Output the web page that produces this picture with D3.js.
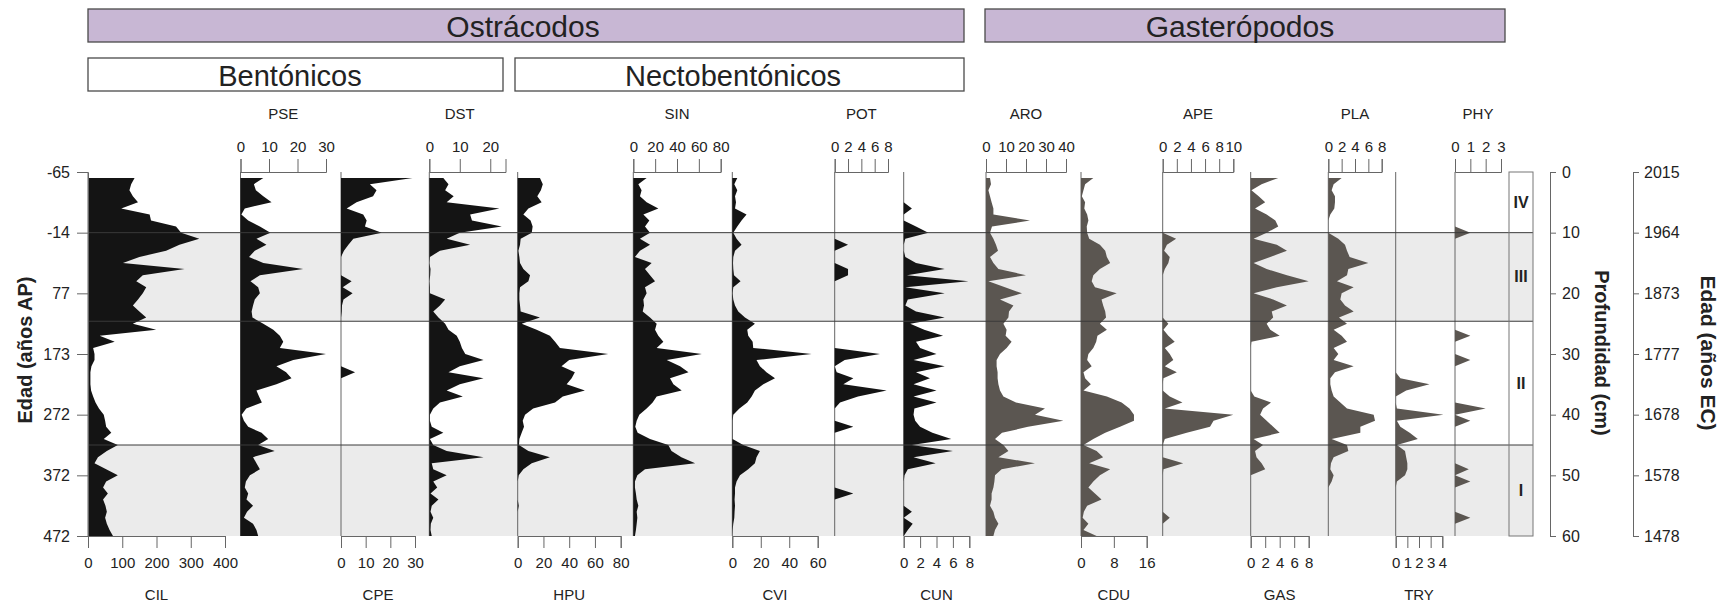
<!DOCTYPE html>
<html>
<head>
<meta charset="utf-8">
<script src="https://cdn.jsdelivr.net/npm/d3@7"></script>
<style>
  body { margin: 0; background: #fff; }
  svg { display: block; font-family: "Liberation Sans", Arial, sans-serif; }
</style>
</head>
<body>
<svg id="chart" width="1722" height="605"></svg>
<script>
// sample depths (cm)
const depths = [1,2,3,4,5,6,7,8,9,10,11,12,13,14,15,16,17,18,19,20,21,22,23,24,25,26,27,28,29,30,
  31,32,33,34,35,36,37,38,39,40,41,42,43,44,45,46,47,48,49,50,51,52,53,54,55,56,57,58,59,60];

// ostracods
const CIL = [136,126,121,131,146,97,180,184,257,272, 325,267,228,150,102,282,160,141,170,160,
  146,131,150,170,131,199,34,78,15,19, 19,10,7,7,7,9,15,22,32,46,
  50,53,68,46,87,55,29,19,53,87, 53,44,58,44,51,55,50,55,63,73];
const PSE = [8,4.7,5.4,8,10.9,1.5,0.3,2.7,6.8,10.5, 5.6,9.1,5,3,8,22,6.8,3.5,6.2,6.8,
  5,4.4,3.9,4.2,8,11.5,13.8,15,13.8,30, 18.5,12.6,16,17.9,12.6,5.6,6.5,7.5,2,0.4,
  1.2,2.7,7.4,9.7,6.2,12,4.4,5.6,6.8,3.3, 1.9,1.5,2.7,2.1,4.4,2.3,1.2,4.4,5.6,6.2];
const CPE = [29,11.7,14.4,13,6.3,2.3,9,10.4,9.7,16.5, 5,3,1.2,0,0,0,0,4.3,0.7,4.7,
  1,0.4,0.3,0,0,0,0,0,0,0, 0,0,5.7,0,0,0,0,0,0,0,
  0,0,0,0,0,0,0,0,0,0, 0,0,0,0,0,0,0,0,0,0];
const DST = [4.6,6.3,5.2,8,5.7,23,13.4,14,23.8,10, 5.7,13.4,3.5,0.2,0,0.4,0.3,0,0.2,0.2,
  5.2,3.5,1.3,3,5.2,6.3,9,10,10.7,11.8, 17.8,10,6.3,17.8,10,5.7,11,3.5,1.3,0.2,
  0.2,0.8,4.6,0.2,1.3,5.7,17.8,0.8,1.3,5.7, 1.3,2.6,0.4,3,0.8,0.4,1.3,0.5,0.4,0.8];
const HPU = [17.3,19.5,18,15.2,18.6,8.3,4.4,10,11.6,10.9, 2.3,1.8,0.5,1.3,1.8,4.4,9.6,8.3,1.8,1.3,
  1.3,1.8,2.3,17.3,3.1,14.7,25,29,32.8,70.3, 40,34,44.4,41.9,38,52.2,35,29,12,5.7,
  3.9,4.9,3.1,1.3,1,8.3,25,10.9,4.4,0.8, 0,0,0,0,0.8,0,0,0,0,0];
const SIN = [12.2,4.6,7.6,6.1,12.2,22.9,9.2,14.7,10.7,15.3, 6.1,15.3,6.1,1.5,16.8,10.7,15.3,19.9,10.7,12.2,
  9.2,9.8,8.6,15.3,21.4,19.9,22.9,27.5,21.4,62.7, 30.6,42.8,50.5,33.6,36.7,44.3,21.4,17.7,12.2,5.5,
  3.1,1.8,4,15.3,32,35,44,56.6,10.7,3.7, 1.5,1.5,2.4,3.1,4.6,3.1,3.7,3.1,2.4,1.5];
const CVI = [3.5,1.4,3.5,1.9,2.6,1.9,10,6.5,3.5,0.7, 3,6.5,1.9,0.7,0.5,0.7,1.2,5.8,0.7,0.2,
  0.7,1.9,4.2,8.9,15.9,10.5,11.2,14.3,14.7,55.7, 17,19.4,24,30,21.8,15.9,13.6,10.5,5,0.7,
  0.2,0.2,0.2,0.2,7.7,19.4,17,15.9,11.2,5.4, 3,1.9,1.9,1.6,1.9,1.6,1.4,0.7,0.2,0];
const POT = [0,0,0,0,0,0,0,0,0,0, 0,2,0,0,0,2,2,0,0,0,
  0,0,0,0,0,0,0,0,0,6.8, 1.5,0,0.3,2.8,1.3,7.8,3.5,0.8,0,0,
  0,2.8,0,0,0,0,0,0,0,0, 0,0,2.8,0,0,0,0,0,0,0];
const CUN = [0,0,0,0,0,1,0,0,1.5,3, 0.2,0,0,0.2,1.5,5,0.4,7.9,0.2,5,
  0.5,0.2,1.5,5,0.8,2.5,4.8,1.5,2,4, 1.2,5,1.5,3.2,1.2,4,1.2,4,1.3,1.2,
  1.4,2,3.5,5.8,1,6,1.2,3.9,0.5,0.1, 0,0,0,0,0,1,0,1.1,0.5,0];

// gastropods
const ARO = [2,2.5,1.2,2,2.8,3.7,3.7,22,3,2, 3.7,5,6,2,3.7,6.2,20,1.2,9.5,18,
  7,13.7,11.5,11.2,8.7,10.3,9.8,12.8,10.3,7, 5.3,5.3,5.8,5.8,6.2,7,8.7,15,29.5,24.5,
  38.7,21,8,4.5,8.7,11.2,6.2,24.5,7.8,4.5, 4.2,3.7,2.8,2.8,2,3.7,4.5,6.2,4.5,3.7];
const CDU = [3,1,0.6,0.2,1,0.8,1.5,1.8,1.4,1.5, 2,4.6,5.9,6.3,7.1,4.6,3,2.6,3.4,8.7,
  5,5.4,5.9,6.1,4.6,6.3,4,3.7,3,1.8, 1.5,2.6,0.6,1,2.4,0.6,6.3,9.9,11.8,12.9,
  12.9,9.5,5.9,3,0.6,3.8,5.4,2,7.1,4.6, 3,1.8,3.4,5,1.5,0.7,0.4,1.8,0.6,3.8];
const APE = [0,0,0,0,0,0,0,0,0,0, 1.9,0.6,0.2,1,0.8,0.3,0,0,0,0,
  0,0,0,0,0.8,0.1,0.8,1.7,0.3,1, 1.5,0.3,2,0.1,0,0,1,2.8,0.3,10,
  7.2,6.7,3.4,0.3,0,0,0,2.9,0.1,0, 0,0,0,0,0,0,1,0,0,0];
const GAS = [3.8,1.5,0.1,1.1,2,0.6,2.2,3.4,3.8,2.2, 0.4,3.6,5,2.7,0.4,2.2,5,8,3.6,0.4,
  3.1,5,2.9,3.1,2.2,2.7,4,0.1,0,0, 0,0,0,0,0,0,0.5,2.8,1.7,1.3,
  2.2,3.1,4,0.4,1.7,0.6,0.8,1.5,2,0, 0,0,0,0,0,0,0,0,0,0];
const PLA = [2,0.8,0.5,1,1,0.9,0.3,0,0,0, 1.5,2.5,2.8,3.2,6,3,2.8,1.3,3.8,2,
  1.8,2.5,3.8,1.6,2.8,0.8,2,2.8,0.8,1.5, 0.8,3.8,1,0.3,0.3,0.5,0.8,1.8,2.8,6.8,
  7,4.8,4.8,0.5,2.8,3,0.8,0.4,0.3,0.8, 0.5,0,0,0,0,0,0,0,0,0];
const TRY = [0,0,0,0,0,0,0,0,0,0, 0,0,0,0,0,0,0,0,0,0,
  0,0,0,0,0,0,0,0,0,0, 0,0,0,0.4,2.9,0.9,0,0,0.1,4.1,
  0.1,0.4,1.2,1.9,0.1,0.8,0.9,1,1,0.8, 0.1,0,0,0,0,0,0,0,0,0];
const PHY = [0,0,0,0,0,0,0,0,0,1, 0,0,0,0,0,0,0,0,0,0,
  0,0,0,0,0,0,1,0,0,0, 1,0,0,0,0,0,0,0,2,0,
  1,0,0,0,0,0,0,0,0.9,0, 1,0,0,0,0,0,1,0,0,0];

const taxa = ["CIL","PSE","CPE","DST","HPU","SIN","CVI","POT","CUN","ARO","CDU","APE","GAS","PLA","TRY","PHY"];
const series = [CIL,PSE,CPE,DST,HPU,SIN,CVI,POT,CUN,ARO,CDU,APE,GAS,PLA,TRY,PHY];
const taxonTicks = [[0,100,200,300,400],[0,10,20,30],[0,10,20,30],[0,10,20],[0,20,40,60,80],
  [0,20,40,60,80],[0,20,40,60],[0,2,4,6,8],[0,2,4,6,8],[0,10,20,30,40],[0,8,16],
  [0,2,4,6,8,10],[0,2,4,6,8],[0,2,4,6,8],[0,1,2,3,4],[0,1,2,3]];
const gastropods = ["ARO","CDU","APE","GAS","PLA","TRY","PHY"];

const depthTicks = [0,10,20,30,40,50,60];
const ageAP = ["-65","-14","77","173","272","372","472"];
const ageEC = ["2015","1964","1873","1777","1678","1578","1478"];
const zoneNames = ["IV","III","II","I"];
const zoneLimits = [0,10,24.6,45,60];

// layout: panel placement [x of zero, x of domain end, domain end, axis side]
const layout = {
  CIL:[88,225,400,"bottom"], PSE:[240.5,326,30,"top"], CPE:[341,415,30,"bottom"],
  DST:[429.3,505.5,25,"top"], HPU:[517.7,620.7,80,"bottom"], SIN:[633.3,720.7,80,"top"],
  CVI:[732.3,817.7,60,"bottom"], POT:[834.7,888,8,"top"], CUN:[903.7,969.3,8,"bottom"],
  ARO:[986,1066,40,"top"], CDU:[1081,1146.7,16,"bottom"], APE:[1162.7,1233.3,10,"top"],
  GAS:[1250.7,1308.7,8,"bottom"], PLA:[1328.3,1381.7,8,"top"], TRY:[1395.7,1442.3,4,"bottom"],
  PHY:[1455,1501,3,"top"]
};

const svg = d3.select('#chart');
const y = d3.scaleLinear().domain([0, 60]).range([172, 536]);
const plotLeft = 88, plotRight = 1533;

// header boxes
function headerBox(x, yy, w, h, fill, label, cx, size) {
  svg.append('rect').attr('x', x).attr('y', yy).attr('width', w).attr('height', h)
    .attr('fill', fill).attr('stroke', '#4a4a4a').attr('stroke-width', 1.3);
  svg.append('text').attr('x', cx).attr('y', yy + h / 2 + 1).attr('text-anchor', 'middle')
    .attr('dominant-baseline', 'central').style('font-size', size + 'px').attr('fill', '#222')
    .text(label);
}
headerBox(88, 9, 876, 33, '#c8b7d4', 'Ostrácodos', 523, 30);
headerBox(985, 9, 520, 33, '#c8b7d4', 'Gasterópodos', 1240, 30);
headerBox(88, 58, 415, 33, '#fff', 'Bentónicos', 290, 29);
headerBox(515, 58, 449, 33, '#fff', 'Nectobentónicos', 733, 29);

// zone shading (III and I)
[1, 3].forEach(i => {
  svg.append('rect').attr('x', plotLeft).attr('y', y(zoneLimits[i]))
    .attr('width', plotRight - plotLeft).attr('height', y(zoneLimits[i + 1]) - y(zoneLimits[i]))
    .attr('fill', '#ebebeb');
});

// panels
taxa.forEach((name, i) => {
  const [x0, x1, dmax, side] = layout[name];
  const x = d3.scaleLinear().domain([0, dmax]).range([x0, x1]);
  const color = gastropods.includes(name) ? '#5b5651' : '#141414';
  const pts = depths.map((d, j) => ({ depth: d, v: series[i][j] }));

  svg.append('line').attr('x1', x0).attr('x2', x0).attr('y1', y(0)).attr('y2', y(60))
    .attr('stroke', '#666').attr('stroke-width', 1);

  const area = d3.area().y(d => y(d.depth)).x0(x(0)).x1(d => x(d.v));
  svg.append('path').datum(pts).attr('d', area).attr('fill', color);

  const axis = (side === 'top' ? d3.axisTop(x) : d3.axisBottom(x))
    .tickValues(taxonTicks[i]).tickFormat(d3.format('d')).tickSizeOuter(0)
    .tickSize(side === 'top' ? 13 : 12).tickPadding(side === 'top' ? 7 : 9);
  const g = svg.append('g').attr('transform', `translate(0,${side === 'top' ? y(0) : y(60)})`).call(axis);
  g.select('.domain').attr('stroke', '#666');
  g.selectAll('.tick line').attr('stroke', '#666');
  g.selectAll('.tick text').style('font-size', '15px').attr('fill', '#222')
    .style('font-family', '"Liberation Sans", Arial, sans-serif');

  svg.append('text').attr('x', (x0 + x(taxonTicks[i][taxonTicks[i].length - 1])) / 2)
    .attr('y', side === 'top' ? 119 : 600).attr('text-anchor', 'middle')
    .style('font-size', '15px').attr('fill', '#222').text(name);
});

// zone boundaries
zoneLimits.slice(1, 4).forEach(z => {
  svg.append('line').attr('x1', plotLeft).attr('x2', plotRight).attr('y1', y(z)).attr('y2', y(z))
    .attr('stroke', '#3a3a3a').attr('stroke-width', 1);
});

// zone label column
svg.append('rect').attr('x', 1509).attr('y', y(0)).attr('width', 24).attr('height', y(60) - y(0))
  .attr('fill', 'none').attr('stroke', '#777').attr('stroke-width', 1);
zoneNames.forEach((z, i) => {
  svg.append('text').attr('x', 1521).attr('y', y((zoneLimits[i] + zoneLimits[i + 1]) / 2))
    .attr('text-anchor', 'middle').attr('dominant-baseline', 'central')
    .style('font-size', '16px').style('font-weight', 'bold').attr('fill', '#222').text(z);
});

// side axes
function sideAxis(gen, xpos, labels) {
  const g = svg.append('g').attr('transform', `translate(${xpos},0)`).call(gen
    .tickValues(depthTicks).tickFormat((d, i) => labels[i]).tickSizeOuter(0));
  g.select('.domain').attr('stroke', '#666');
  g.selectAll('.tick line').attr('stroke', '#666');
  g.selectAll('.tick text').style('font-size', '16px').attr('fill', '#222')
    .style('font-family', '"Liberation Sans", Arial, sans-serif');
}
sideAxis(d3.axisLeft(y).tickSize(11).tickPadding(7), 88, ageAP);
sideAxis(d3.axisRight(y).tickSize(6).tickPadding(6), 1550, depthTicks.map(String));
sideAxis(d3.axisRight(y).tickSize(6).tickPadding(5), 1633, ageEC);

function vtitle(x, yy, rot, label, size) {
  svg.append('text').attr('transform', `translate(${x},${yy}) rotate(${rot})`)
    .attr('text-anchor', 'middle').attr('dominant-baseline', 'central')
    .style('font-size', size + 'px').style('font-weight', 'bold').attr('fill', '#222').text(label);
}
vtitle(25, 350, -90, 'Edad (años AP)', 20);
vtitle(1602, 353, 90, 'Profundidad (cm)', 20);
vtitle(1708, 353, 90, 'Edad (años EC)', 21);
</script>
</body>
</html>
